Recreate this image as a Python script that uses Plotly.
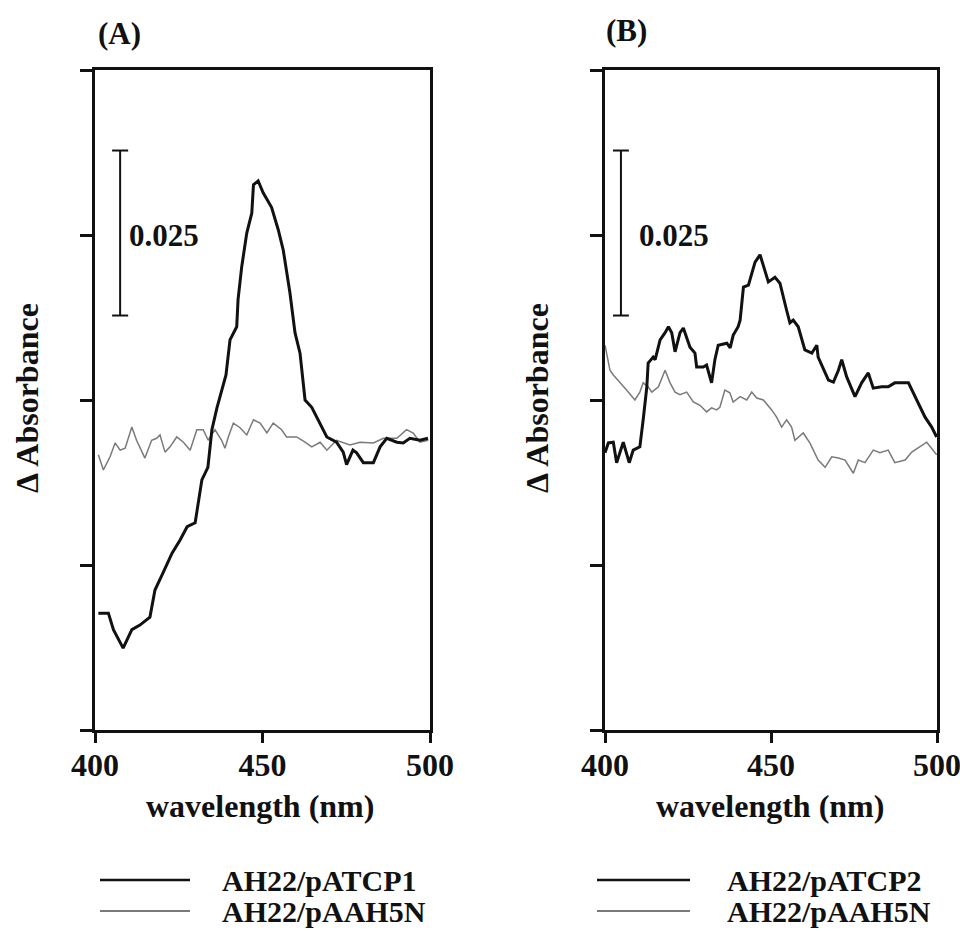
import plotly.graph_objects as go

# ---------------- data ----------------
# Panel A, AH22/pATCP1 (black)
a1_x = [401.0, 404.0, 405.5, 408.4, 411.0, 413.4, 416.4, 417.9, 420.3, 423.0, 425.4, 427.5, 429.9,
        431.9, 433.7, 434.9, 436.4, 439.1, 440.3, 442.3, 442.7, 443.8, 445.3, 446.8, 447.3, 448.7,
        450.2, 452.7, 454.7, 456.2, 458.2, 459.7, 461.2, 462.7, 464.7, 467.2, 469.2, 472.1, 474.1,
        475.1, 477.0, 478.1, 480.1, 483.1, 485.1, 487.1, 490.1, 492.0, 494.0, 497.0, 499.4]
a1_y = [0.0177, 0.0177, 0.0152, 0.0124, 0.0152, 0.0159, 0.0171, 0.0212, 0.0238, 0.0268, 0.0288,
        0.0308, 0.0314, 0.0379, 0.0398, 0.0455, 0.0488, 0.0538, 0.0591, 0.0611, 0.0652, 0.0702,
        0.0753, 0.0783, 0.0826, 0.0832, 0.0814, 0.0792, 0.0758, 0.0727, 0.0662, 0.0602, 0.0571,
        0.0500, 0.0489, 0.0465, 0.0444, 0.0436, 0.0421, 0.0402, 0.0424, 0.0420, 0.0405, 0.0405,
        0.0429, 0.0442, 0.0436, 0.0435, 0.0442, 0.0439, 0.0442]

# Panel A, AH22/pAAH5N (grey)
a2_x = [401.0, 402.5, 404.5, 406.0, 407.5, 409.0, 411.0, 412.4, 414.9, 416.9, 418.4, 419.4, 420.9,
        422.4, 424.4, 426.4, 428.4, 430.4, 432.3, 433.8, 435.8, 437.8, 438.8, 439.8, 441.3, 443.3,
        445.3, 447.3, 449.3, 451.3, 453.2, 455.7, 457.2, 460.2, 462.7, 464.7, 467.2, 469.2, 472.1,
        476.1, 479.1, 483.1, 486.1, 490.1, 493.0, 495.0, 497.0, 499.5]
a2_y = [0.0417, 0.0394, 0.0414, 0.0435, 0.0424, 0.0427, 0.0459, 0.0439, 0.0412, 0.0439, 0.0442,
        0.0447, 0.0421, 0.0429, 0.0444, 0.0436, 0.0424, 0.0455, 0.0455, 0.0439, 0.0455, 0.0439,
        0.0427, 0.0444, 0.0465, 0.0458, 0.0447, 0.0470, 0.0465, 0.0450, 0.0465, 0.0455, 0.0444,
        0.0444, 0.0436, 0.0429, 0.0436, 0.0424, 0.0439, 0.0432, 0.0436, 0.0435, 0.0442, 0.0442,
        0.0455, 0.0450, 0.0436, 0.0439]

# Panel B, AH22/pATCP2 (black)
b1_x = [400.0, 401.0, 402.5, 403.5, 405.5, 407.3, 408.5, 410.5, 411.5, 412.6, 413.0, 414.5, 415.1,
        416.6, 418.1, 419.1, 420.1, 421.1, 422.6, 423.6, 425.6, 427.1, 427.6, 429.6, 430.6, 432.1,
        433.1, 434.1, 436.7, 437.7, 438.6, 440.1, 440.7, 441.7, 443.2, 445.2, 446.7, 447.7, 449.2,
        451.2, 452.7, 454.7, 455.7, 456.7, 458.2, 460.2, 462.3, 463.8, 464.2, 467.3, 468.8, 470.3,
        471.3, 472.8, 475.3, 477.3, 479.3, 480.8, 483.3, 485.3, 487.3, 491.4, 493.4, 496.4, 498.4,
        499.9]
b1_y = [0.0420, 0.0435, 0.0436, 0.0405, 0.0436, 0.0405, 0.0424, 0.0429, 0.0470, 0.0520, 0.0556,
        0.0565, 0.0561, 0.0591, 0.0602, 0.0611, 0.0602, 0.0573, 0.0602, 0.0609, 0.0580, 0.0571,
        0.0550, 0.0550, 0.0553, 0.0526, 0.0561, 0.0583, 0.0586, 0.0579, 0.0598, 0.0611, 0.0621,
        0.0671, 0.0674, 0.0709, 0.0720, 0.0702, 0.0679, 0.0686, 0.0677, 0.0636, 0.0617, 0.0621,
        0.0611, 0.0576, 0.0571, 0.0583, 0.0565, 0.0530, 0.0527, 0.0545, 0.0561, 0.0535, 0.0505,
        0.0526, 0.0541, 0.0518, 0.0520, 0.0520, 0.0526, 0.0526, 0.0505, 0.0474, 0.0459, 0.0444]

# Panel B, AH22/pAAH5N (grey)
b2_x = [400.0, 400.5, 401.5, 402.5, 404.5, 406.5, 409.0, 410.5, 411.5, 413.0, 414.1, 416.1, 418.1,
        419.6, 421.1, 422.6, 424.6, 426.6, 428.6, 430.6, 432.1, 433.6, 434.6, 436.1, 437.6, 438.6,
        440.7, 442.7, 444.2, 445.7, 447.7, 450.2, 451.7, 453.2, 454.7, 456.2, 457.2, 459.7, 461.7,
        464.2, 466.3, 468.3, 470.3, 472.3, 474.8, 476.3, 478.3, 480.8, 482.8, 485.3, 487.3, 490.4,
        492.4, 494.9, 496.9, 499.9]
b2_y = [0.0583, 0.0571, 0.0545, 0.0538, 0.0527, 0.0515, 0.0500, 0.0512, 0.0526, 0.0520, 0.0512,
        0.0520, 0.0545, 0.0526, 0.0512, 0.0508, 0.0512, 0.0497, 0.0492, 0.0482, 0.0488, 0.0485,
        0.0489, 0.0515, 0.0511, 0.0497, 0.0505, 0.0500, 0.0512, 0.0503, 0.0500, 0.0485, 0.0474,
        0.0459, 0.0470, 0.0459, 0.0439, 0.0450, 0.0435, 0.0409, 0.0398, 0.0414, 0.0412, 0.0409,
        0.0389, 0.0409, 0.0405, 0.0424, 0.0420, 0.0424, 0.0405, 0.0409, 0.0421, 0.0429, 0.0436,
        0.0417]

x_ticks = [400, 450, 500]
y_ticks = [0, 0.025, 0.05, 0.075, 0.1]
scale_bar_value = 0.025
scale_bar_center = 0.0753
names_a = ["AH22/pATCP1", "AH22/pAAH5N"]
names_b = ["AH22/pATCP2", "AH22/pAAH5N"]
panel_titles = ["(A)", "(B)"]

# ---------------- figure ----------------
FONT = "Liberation Serif, Times New Roman, serif"
BLACK = "#111111"
GREY = "#7a7a7a"
W, H = 960, 931

fig = go.Figure()

def add_panel(xs1, ys1, xs2, ys2, xa, ya, bar_x, bar_cap):
    fig.add_trace(go.Scatter(x=xs2, y=ys2, mode="lines", line=dict(color=GREY, width=1.5),
                             xaxis=xa, yaxis=ya, showlegend=False, hoverinfo="skip"))
    fig.add_trace(go.Scatter(x=xs1, y=ys1, mode="lines", line=dict(color=BLACK, width=3),
                             xaxis=xa, yaxis=ya, showlegend=False, hoverinfo="skip"))
    top = scale_bar_center + scale_bar_value / 2
    bot = scale_bar_center - scale_bar_value / 2
    fig.add_trace(go.Scatter(
        x=[bar_x - bar_cap, bar_x + bar_cap, None, bar_x, bar_x, None, bar_x - bar_cap, bar_x + bar_cap],
        y=[top, top, None, top, bot, None, bot, bot],
        mode="lines", line=dict(color=BLACK, width=2), xaxis=xa, yaxis=ya,
        showlegend=False, hoverinfo="skip"))

add_panel(a1_x, a1_y, a2_x, a2_y, "x", "y", 407.5, 2.4)
add_panel(b1_x, b1_y, b2_x, b2_y, "x2", "y2", 404.8, 2.4)

ydom = [1 - 730 / H, 1 - 70 / H]
axis_common = dict(showline=True, linewidth=2.5, linecolor=BLACK, mirror=True, ticks="outside",
                   tickwidth=2.5, tickcolor=BLACK, showgrid=False, zeroline=False, automargin=False)
xcommon = dict(axis_common, range=[400, 500], tickvals=x_ticks, ticklen=10,
               tickfont=dict(family=FONT, size=32, color=BLACK, weight="bold"),
               ticklabelstandoff=-5, ticklabeloverflow="allow")
ycommon = dict(axis_common, range=[0, 0.1], tickvals=y_ticks, ticklen=12, showticklabels=False)

fig.update_layout(
    width=W, height=H, margin=dict(l=0, r=0, t=0, b=0, autoexpand=False),
    paper_bgcolor="white", plot_bgcolor="white",
    xaxis=dict(xcommon, domain=[95 / W, 430 / W], anchor="y"),
    yaxis=dict(ycommon, domain=ydom, anchor="x"),
    xaxis2=dict(xcommon, domain=[605 / W, 937 / W], anchor="y2"),
    yaxis2=dict(ycommon, domain=ydom, anchor="x2"),
)

def px_x(p):
    return p / W

def px_y(p):
    return 1 - p / H

ann = []
bold = lambda s: "<b>" + s + "</b>"
# panel titles
ann.append(dict(x=px_x(96), y=px_y(33), text=bold(panel_titles[0]), xanchor="left", yanchor="middle",
                font=dict(family=FONT, size=31, color=BLACK)))
ann.append(dict(x=px_x(604), y=px_y(31), text=bold(panel_titles[1]), xanchor="left", yanchor="middle",
                font=dict(family=FONT, size=31, color=BLACK)))
# scale bar labels
ann.append(dict(x=409.7, y=0.075, xref="x", yref="y", text=bold("0.025"), xanchor="left", yanchor="middle",
                font=dict(family=FONT, size=31, color=BLACK)))
ann.append(dict(x=409.5, y=0.075, xref="x2", yref="y2", text=bold("0.025"), xanchor="left", yanchor="middle",
                font=dict(family=FONT, size=31, color=BLACK)))
# axis titles
for cx in (260, 770):
    ann.append(dict(x=px_x(cx), y=px_y(806), text=bold("wavelength (nm)"), xanchor="center", yanchor="middle",
                    font=dict(family=FONT, size=32, color=BLACK)))
for cx in (27, 537):
    ann.append(dict(x=px_x(cx), y=px_y(398), text=bold("Δ Absorbance"), xanchor="center", yanchor="middle",
                    textangle=-90, font=dict(family=FONT, size=32, color=BLACK)))

shapes = []
legend_specs = [(100, 190, 220, names_a), (597, 690, 725, names_b)]
for x0, x1, tx, names in legend_specs:
    for (yy, col, wd, name) in [(880, BLACK, 2.5, names[0]), (911, GREY, 1.8, names[1])]:
        shapes.append(dict(type="line", xref="paper", yref="paper", x0=px_x(x0), x1=px_x(x1),
                           y0=px_y(yy), y1=px_y(yy), line=dict(color=col, width=wd)))
        ann.append(dict(x=px_x(tx), y=px_y(yy), text=bold(name), xanchor="left", yanchor="middle",
                        font=dict(family=FONT, size=30, color=BLACK)))

for a in ann:
    a.setdefault("xref", "paper")
    a.setdefault("yref", "paper")
    a["showarrow"] = False

fig.update_layout(annotations=ann, shapes=shapes)
fig.write_html("out.html", config={"displayModeBar": False},
               post_script="document.body.style.margin='0px';")
